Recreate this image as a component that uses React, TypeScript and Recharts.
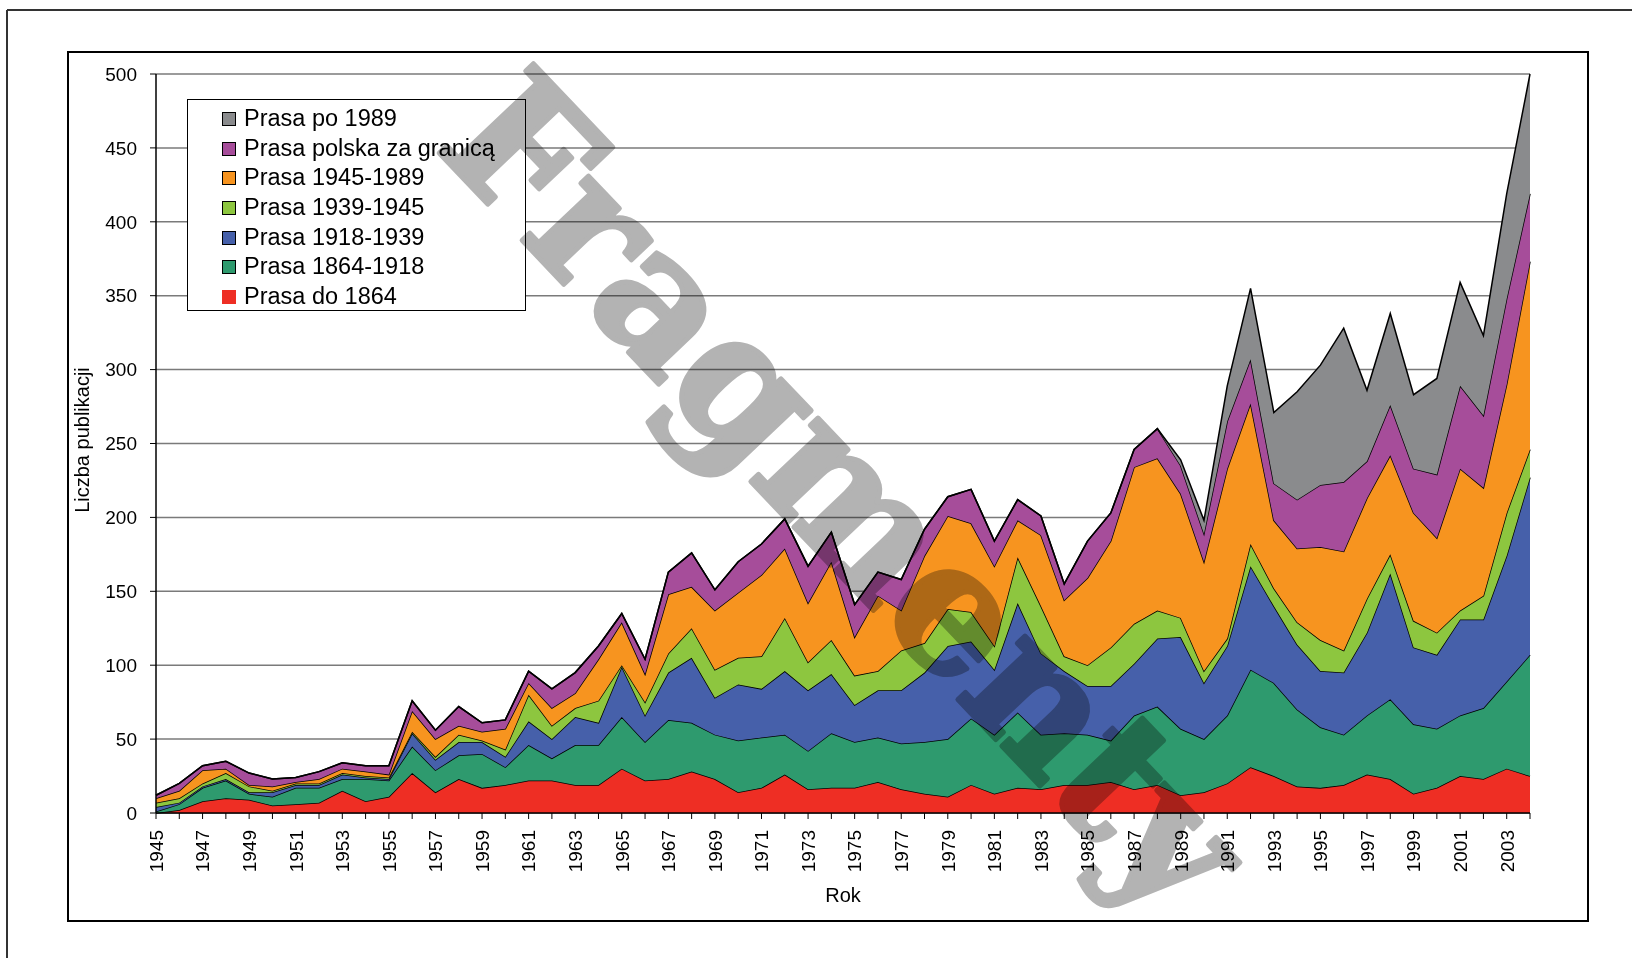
import { AreaChart, Area, XAxis, YAxis, CartesianGrid } from 'recharts';

const years = [
  1945, 1946, 1947, 1948, 1949, 1950, 1951, 1952, 1953, 1954,
  1955, 1956, 1957, 1958, 1959, 1960, 1961, 1962, 1963, 1964,
  1965, 1966, 1967, 1968, 1969, 1970, 1971, 1972, 1973, 1974,
  1975, 1976, 1977, 1978, 1979, 1980, 1981, 1982, 1983, 1984,
  1985, 1986, 1987, 1988, 1989, 1990, 1991, 1992, 1993, 1994,
  1995, 1996, 1997, 1998, 1999, 2000, 2001, 2002, 2003, 2004,
];

// years that carry a label on the x axis
const labelledYears = [
  1945, 1947, 1949, 1951, 1953, 1955, 1957, 1959, 1961, 1963,
  1965, 1967, 1969, 1971, 1973, 1975, 1977, 1979, 1981, 1983,
  1985, 1987, 1989, 1991, 1993, 1995, 1997, 1999, 2001, 2003,
];

const yTicks = [0, 50, 100, 150, 200, 250, 300, 350, 400, 450, 500];

const prasaDo1864 = [
  0, 2, 8, 10, 9, 5, 6, 7, 15, 8,
  11, 27, 14, 23, 17, 19, 22, 22, 19, 19,
  30, 22, 23, 28, 23, 14, 17, 26, 16, 17,
  17, 21, 16, 13, 11, 19, 13, 17, 16, 19,
  19, 21, 16, 19, 12, 14, 20, 31, 25, 18,
  17, 19, 26, 23, 13, 17, 25, 23, 30, 25,
];

const prasa1864_1918 = [
  1, 4, 9, 12, 4, 6, 11, 10, 8, 15,
  11, 18, 15, 16, 23, 12, 24, 15, 27, 27,
  35, 26, 40, 33, 30, 35, 34, 27, 26, 37,
  31, 30, 31, 35, 39, 45, 40, 51, 37, 35,
  34, 28, 50, 53, 45, 36, 46, 66, 63, 52,
  41, 34, 40, 54, 47, 40, 41, 48, 59, 82,
];

const prasa1918_1939 = [
  3, 1, 1, 1, 1, 3, 2, 2, 3, 1,
  1, 9, 7, 9, 8, 7, 16, 13, 19, 15,
  34, 18, 32, 44, 25, 38, 33, 43, 41, 40,
  25, 32, 36, 47, 63, 52, 44, 74, 55, 42,
  33, 37, 35, 46, 62, 38, 47, 70, 52, 44,
  38, 42, 56, 85, 52, 50, 65, 60, 85, 120,
];

const prasa1939_1945 = [
  3, 3, 2, 4, 4, 1, 1, 1, 1, 1,
  1, 1, 2, 5, 1, 5, 18, 9, 6, 15,
  1, 9, 13, 20, 19, 18, 22, 36, 19, 23,
  20, 13, 27, 20, 25, 20, 16, 31, 32, 10,
  14, 26, 27, 19, 13, 8, 5, 15, 12, 15,
  21, 15, 23, 13, 18, 15, 6, 16, 29, 19,
];

const prasa1945_1989 = [
  3, 5, 9, 3, 1, 3, 1, 3, 3, 3,
  2, 14, 12, 6, 6, 14, 8, 12, 10, 28,
  29, 19, 40, 28, 40, 44, 55, 47, 40, 53,
  26, 51, 27, 59, 63, 60, 54, 25, 48, 38,
  59, 72, 106, 103, 84, 74, 115, 95, 46, 50,
  63, 67, 68, 67, 73, 64, 96, 73, 87, 127,
];

const prasaZaGranica = [
  2, 5, 3, 5, 8, 5, 3, 5, 4, 4,
  6, 7, 6, 13, 6, 6, 8, 13, 14, 9,
  6, 10, 15, 23, 14, 21, 21, 20, 25, 20,
  22, 16, 21, 18, 13, 23, 17, 14, 13, 11,
  25, 19, 12, 20, 19, 19, 32, 30, 25, 33,
  42, 47, 25, 34, 30, 43, 56, 49, 58, 46,
];

const prasaPo1989 = [
  0, 0, 0, 0, 0, 0, 0, 0, 0, 0,
  0, 0, 0, 0, 0, 0, 0, 0, 0, 0,
  0, 0, 0, 0, 0, 0, 0, 0, 0, 0,
  0, 0, 0, 0, 0, 0, 0, 0, 0, 0,
  0, 0, 0, 0, 4, 9, 24, 48, 48, 73,
  81, 104, 48, 62, 50, 65, 70, 54, 71, 81,
];

// bottom to top
const series = [
  { key: 'do1864', name: 'Prasa do 1864', color: '#EE2E24', values: prasaDo1864 },
  { key: 'p1864', name: 'Prasa 1864-1918', color: '#2E9A6E', values: prasa1864_1918 },
  { key: 'p1918', name: 'Prasa 1918-1939', color: '#4660AA', values: prasa1918_1939 },
  { key: 'p1939', name: 'Prasa 1939-1945', color: '#8DC63F', values: prasa1939_1945 },
  { key: 'p1945', name: 'Prasa 1945-1989', color: '#F7941F', values: prasa1945_1989 },
  { key: 'granica', name: 'Prasa polska za granicą', color: '#A64D9A', values: prasaZaGranica },
  { key: 'po1989', name: 'Prasa po 1989', color: '#8A8B8D', values: prasaPo1989 },
];

const data = years.map((year, i) => {
  const row: Record<string, number> = { year };
  series.forEach((s) => {
    row[s.key] = s.values[i];
  });
  return row;
});

const FONT = '"Liberation Sans", Arial, sans-serif';

function YearTick(props: any) {
  const { x, y, payload } = props;
  const year = Number(payload.value);
  if (!labelledYears.includes(year)) return <g />;
  return (
    <text
      x={x}
      y={y}
      transform={`rotate(-90, ${x}, ${y})`}
      textAnchor="end"
      dy="0.36em"
      fontSize={19}
      fontFamily={FONT}
      fill="#000"
    >
      {year}
    </text>
  );
}

function LegendBox() {
  const items = [...series].reverse();
  return (
    <div
      style={{
        position: 'absolute',
        left: 187,
        top: 99,
        width: 339,
        height: 212,
        boxSizing: 'border-box',
        border: '1.5px solid #000',
        background: '#fff',
        fontFamily: FONT,
        fontSize: 23.5,
        color: '#000',
        paddingTop: 4,
      }}
    >
      {items.map((s) => (
        <div key={s.key} style={{ height: 29.7, display: 'flex', alignItems: 'center' }}>
          <span
            style={{
              display: 'inline-block',
              width: 14,
              height: 14,
              marginLeft: 34,
              marginRight: 8,
              boxSizing: 'border-box',
              background: s.color,
              border: `1px solid ${s.key === 'do1864' ? s.color : '#000'}`,
            }}
          />
          <span style={{ lineHeight: '29.7px' }}>{s.name}</span>
        </div>
      ))}
    </div>
  );
}

export default function App() {
  return (
    <div
      style={{
        position: 'absolute',
        left: 0,
        top: 0,
        width: 1632,
        height: 958,
        background: '#fff',
        overflow: 'hidden',
        isolation: 'isolate',
        fontFamily: FONT,
      }}
    >
      <AreaChart
        width={1632}
        height={958}
        data={data}
        margin={{ top: 74, right: 102, bottom: 65, left: 96 }}
      >
        <CartesianGrid vertical={false} stroke="#7a7a7a" strokeWidth={1.5} />
        <XAxis
          dataKey="year"
          interval={0}
          tick={<YearTick />}
          tickSize={6}
          tickMargin={11}
          height={80}
          axisLine={{ stroke: '#000', strokeWidth: 1.5 }}
          tickLine={{ stroke: '#000' }}
        />
        <YAxis
          domain={[0, 500]}
          ticks={yTicks}
          interval={0}
          width={60}
          tickSize={6}
          tickMargin={13}
          tick={{ fontSize: 19, fill: '#000', fontFamily: FONT }}
          axisLine={{ stroke: '#000', strokeWidth: 1.5 }}
          tickLine={{ stroke: '#000' }}
        />
        {series.map((s) => (
          <Area
            key={s.key}
            type="linear"
            dataKey={s.key}
            name={s.name}
            stackId="1"
            fill={s.color}
            fillOpacity={1}
            stroke="#000"
            strokeWidth={1.5}
            dot={false}
            activeDot={false}
            isAnimationActive={false}
          />
        ))}
      </AreaChart>

      <LegendBox />

      <svg
        width={1632}
        height={958}
        style={{ position: 'absolute', left: 0, top: 0, pointerEvents: 'none' }}
      >
        <line x1={7} y1={10} x2={1632} y2={10} stroke="#333" strokeWidth={2} />
        <line x1={7} y1={10} x2={7} y2={958} stroke="#333" strokeWidth={2} />
        <rect x={68} y={52} width={1520} height={869} fill="none" stroke="#000" strokeWidth={2} />
        <text
          x={89}
          y={440}
          transform="rotate(-90, 89, 440)"
          textAnchor="middle"
          fontSize={20}
          fontFamily={FONT}
          fill="#000"
        >
          Liczba publikacji
        </text>
        <text x={843} y={902} textAnchor="middle" fontSize={20} fontFamily={FONT} fill="#000">
          Rok
        </text>
      </svg>

      {/* watermark */}
      <svg
        width={1632}
        height={958}
        style={{
          position: 'absolute',
          left: 0,
          top: 0,
          pointerEvents: 'none',
          mixBlendMode: 'multiply',
        }}
      >
        <text
          x={847}
          y={492}
          transform="rotate(46.5, 847, 492)"
          textAnchor="middle"
          dominantBaseline="central"
          fontFamily='"DejaVu Serif", serif'
          fontWeight="bold"
          fontSize={178}
          fill="#b3b3b3"
          stroke="#b3b3b3"
          strokeWidth={5}
          strokeLinejoin="round"
          textLength={1070}
          lengthAdjust="spacingAndGlyphs"
        >
          Fragmenty
        </text>
      </svg>
    </div>
  );
}
